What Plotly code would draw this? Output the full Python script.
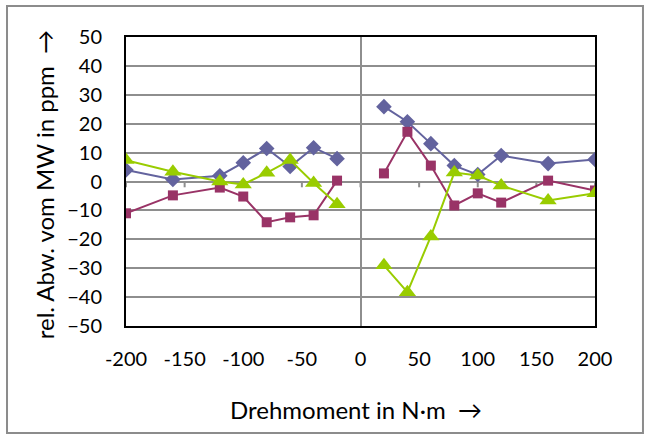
import plotly.graph_objects as go

# Torque set points (N·m): negative branch and positive branch are measured separately
torque_neg = [-200, -160, -120, -100, -80, -60, -40, -20]
torque_pos = [20, 40, 60, 80, 100, 120, 160, 200]

# Relative deviation from mean value (ppm) for the three measurement series
series_a_neg = [4.0, 0.7, 2.0, 6.5, 11.4, 5.2, 11.7, 7.9]
series_a_pos = [25.9, 20.7, 13.1, 5.5, 2.4, 9.0, 6.2, 7.6]

series_b_neg = [-11.0, -4.8, -2.1, -5.2, -14.1, -12.4, -11.7, 0.3]
series_b_pos = [2.8, 17.2, 5.5, -8.3, -4.1, -7.3, 0.3, -3.1]

series_c_neg = [7.4, 3.4, 0.0, -1.0, 3.0, 7.4, -0.5, -7.9]
series_c_pos = [-29.0, -38.3, -19.0, 3.1, 2.1, -1.4, -6.6, -4.1]

x_ticks = [-200, -150, -100, -50, 0, 50, 100, 150, 200]
y_ticks = [-50, -40, -30, -20, -10, 0, 10, 20, 30, 40, 50]

FONT = "Lato"
GRID = "#8E8E8E"
ZERO_TICK_DEPTH = 2.0  # length of the zero-line tick marks, in ppm units

def joined(neg, pos):
    # None breaks the line between the two torque branches
    return list(neg) + [None] + list(pos)

x_all = joined(torque_neg, torque_pos)

series = [
    (joined(series_a_neg, series_a_pos), "#63639E", "diamond", 12),
    (joined(series_b_neg, series_b_pos), "#993366", "square", 10),
    (joined(series_c_neg, series_c_pos), "#99CC00", "triangle-up", 15),
]

fig = go.Figure()

# small downward tick marks along the zero line, drawn first so data sits on top
for t in x_ticks:
    fig.add_trace(go.Scatter(
        x=[t, t], y=[0, -ZERO_TICK_DEPTH], mode="lines",
        line=dict(color=GRID, width=2),
        showlegend=False, hoverinfo="skip",
    ))

for ys, color, symbol, size in series:
    fig.add_trace(go.Scatter(
        x=x_all, y=ys, mode="lines+markers",
        line=dict(color=color, width=2),
        marker=dict(color=color, symbol=symbol, size=size, line=dict(width=0)),
        connectgaps=False, showlegend=False, hoverinfo="skip",
    ))

frame = dict(
    type="rect", xref="paper", yref="paper",
    x0=-0.2537, x1=1.1023, y0=-0.370, y1=1.107,
    line=dict(color="#8C8C8C", width=2), fillcolor="rgba(0,0,0,0)",
    layer="below",
)

fig.update_layout(
    width=649, height=440,
    margin=dict(l=126, r=54, t=37, b=114),
    paper_bgcolor="white", plot_bgcolor="white",
    font=dict(family=FONT, size=20, color="black"),
    xaxis=dict(
        range=[-200, 200], tickvals=x_ticks, ticktext=[str(v) for v in x_ticks],
        showgrid=False, zeroline=True, zerolinecolor=GRID, zerolinewidth=2,
        showline=True, linecolor="black", linewidth=2, mirror=True,
        ticks="", ticklabelstandoff=14, tickfont=dict(size=20),
    ),
    yaxis=dict(
        range=[-50, 50], tickvals=y_ticks,
        showgrid=True, gridcolor=GRID, gridwidth=2,
        zeroline=True, zerolinecolor=GRID, zerolinewidth=2,
        showline=True, linecolor="black", linewidth=2, mirror=True,
        ticks="", ticklabelstandoff=18, tickfont=dict(size=20),
    ),
    shapes=[frame],
    annotations=[
        dict(text="Drehmoment in N·m  →", xref="paper", yref="paper",
             x=0.49, y=-0.29, xanchor="center", yanchor="middle",
             showarrow=False, font=dict(family=FONT, size=24)),
        dict(text="rel. Abw. vom MW in ppm  →", xref="paper", yref="paper",
             x=-0.173, y=0.49, xanchor="center", yanchor="middle",
             textangle=-90, showarrow=False, font=dict(family=FONT, size=24)),
    ],
)

fig.write_html("out.html")
